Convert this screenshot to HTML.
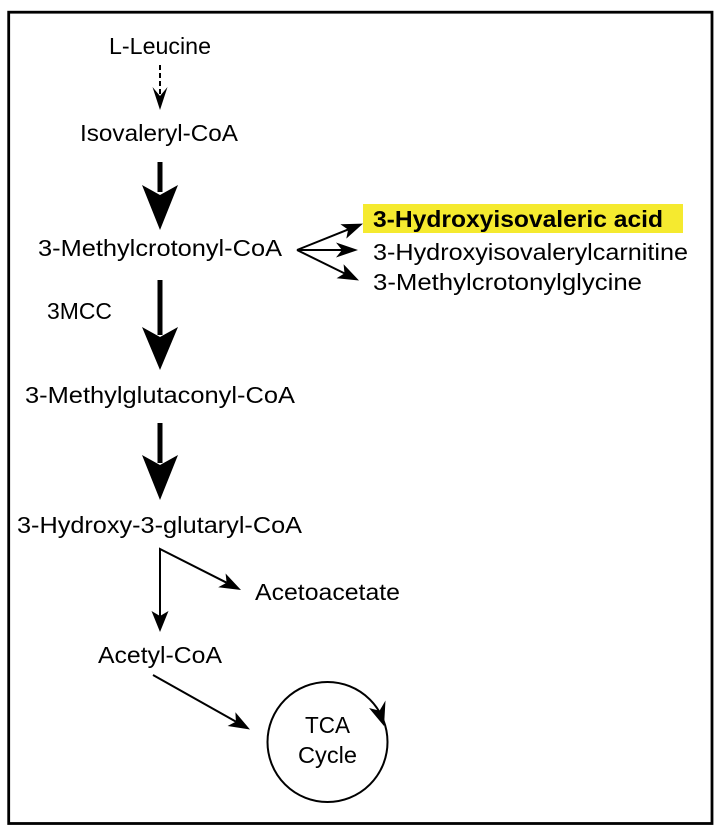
<!DOCTYPE html>
<html>
<head>
<meta charset="utf-8">
<style>
  html, body { margin: 0; padding: 0; background: #fff; }
  svg { display: block; }
  text { font-family: "Liberation Sans", "DejaVu Sans", sans-serif; font-size: 23.5px; fill: #000; }
</style>
</head>
<body>
<svg width="726" height="838" viewBox="0 0 726 838" xmlns="http://www.w3.org/2000/svg">
  <rect x="0" y="0" width="726" height="838" fill="#fff"/>
  <!-- border -->
  <rect x="8.7" y="12.2" width="703.3" height="811.3" fill="none" stroke="#000" stroke-width="2.8"/>

  <!-- L-Leucine -->
  <text x="109" y="54" textLength="102" lengthAdjust="spacingAndGlyphs">L-Leucine</text>
  <!-- dashed arrow -->
  <line x1="160" y1="65" x2="160" y2="94" stroke="#000" stroke-width="2" stroke-dasharray="5,3"/>
  <path d="M152.5,87 L160,96 L167.5,87 L160,110 Z" fill="#000"/>

  <text x="80" y="141" textLength="158" lengthAdjust="spacingAndGlyphs">Isovaleryl-CoA</text>

  <!-- big arrow 1 -->
  <rect x="157.5" y="162" width="5" height="30" fill="#000"/>
  <path d="M142,185 L160,195 L178,185 L160,230 Z" fill="#000"/>

  <text x="38" y="256" textLength="244" lengthAdjust="spacingAndGlyphs">3-Methylcrotonyl-CoA</text>

  <!-- branch arrows -->
  <g stroke="#000" stroke-width="2" fill="none">
    <line x1="297" y1="250" x2="348" y2="229.6"/>
    <line x1="297" y1="250" x2="342" y2="250"/>
    <line x1="297" y1="250" x2="344.5" y2="273.4"/>
  </g>
  <path d="M363,223.6 L346.3,238.6 L348.1,229.6 L340.4,224.3 Z" fill="#000"/>
  <path d="M358,250 L336,242.5 L342,250 L336,257.5 Z" fill="#000"/>
  <path d="M359,280.5 L336.6,278.2 L344.5,273.4 L343.6,264.2 Z" fill="#000"/>

  <!-- highlight -->
  <rect x="363" y="204" width="320" height="29" fill="#f5ea2f"/>
  <text x="373" y="227" font-weight="bold" textLength="290" lengthAdjust="spacingAndGlyphs">3-Hydroxyisovaleric acid</text>
  <text x="373" y="260" textLength="315" lengthAdjust="spacingAndGlyphs">3-Hydroxyisovalerylcarnitine</text>
  <text x="373" y="290" textLength="269" lengthAdjust="spacingAndGlyphs">3-Methylcrotonylglycine</text>

  <text x="47" y="319" textLength="65" lengthAdjust="spacingAndGlyphs">3MCC</text>

  <!-- big arrow 2 -->
  <rect x="157.5" y="280" width="5" height="55" fill="#000"/>
  <path d="M142,327 L160,337 L178,327 L160,370 Z" fill="#000"/>

  <text x="25" y="403" textLength="270" lengthAdjust="spacingAndGlyphs">3-Methylglutaconyl-CoA</text>

  <!-- big arrow 3 -->
  <rect x="157.5" y="423" width="5" height="40" fill="#000"/>
  <path d="M142,455 L160,465 L178,455 L160,500 Z" fill="#000"/>

  <text x="17" y="533" textLength="285" lengthAdjust="spacingAndGlyphs">3-Hydroxy-3-glutaryl-CoA</text>

  <!-- split arrows -->
  <g stroke="#000" stroke-width="2" fill="none">
    <polyline points="160,616 160,549 226.6,582.7"/>
  </g>
  <path d="M160,632 L151.5,611 L160,616 L168.5,611 Z" fill="#000"/>
  <path d="M241,590 L218.2,587.3 L226.6,582.7 L225.6,573.5 Z" fill="#000"/>

  <text x="255" y="600" textLength="145" lengthAdjust="spacingAndGlyphs">Acetoacetate</text>
  <text x="98" y="663" textLength="124" lengthAdjust="spacingAndGlyphs">Acetyl-CoA</text>

  <!-- acetyl to TCA -->
  <line x1="153" y1="675" x2="235.9" y2="721.6" stroke="#000" stroke-width="2"/>
  <path d="M250,729.5 L227.6,726 L235.9,721.6 L235.4,712.3 Z" fill="#000"/>

  <!-- TCA circle -->
  <circle cx="327.5" cy="742" r="60" fill="none" stroke="#000" stroke-width="2"/>
  <path d="M384,726 L369,708 L379.5,710.8 L385.5,700.5 Z" fill="#000"/>
  <text x="305" y="733" textLength="45" lengthAdjust="spacingAndGlyphs">TCA</text>
  <text x="298" y="763" textLength="59" lengthAdjust="spacingAndGlyphs">Cycle</text>
</svg>
</body>
</html>
